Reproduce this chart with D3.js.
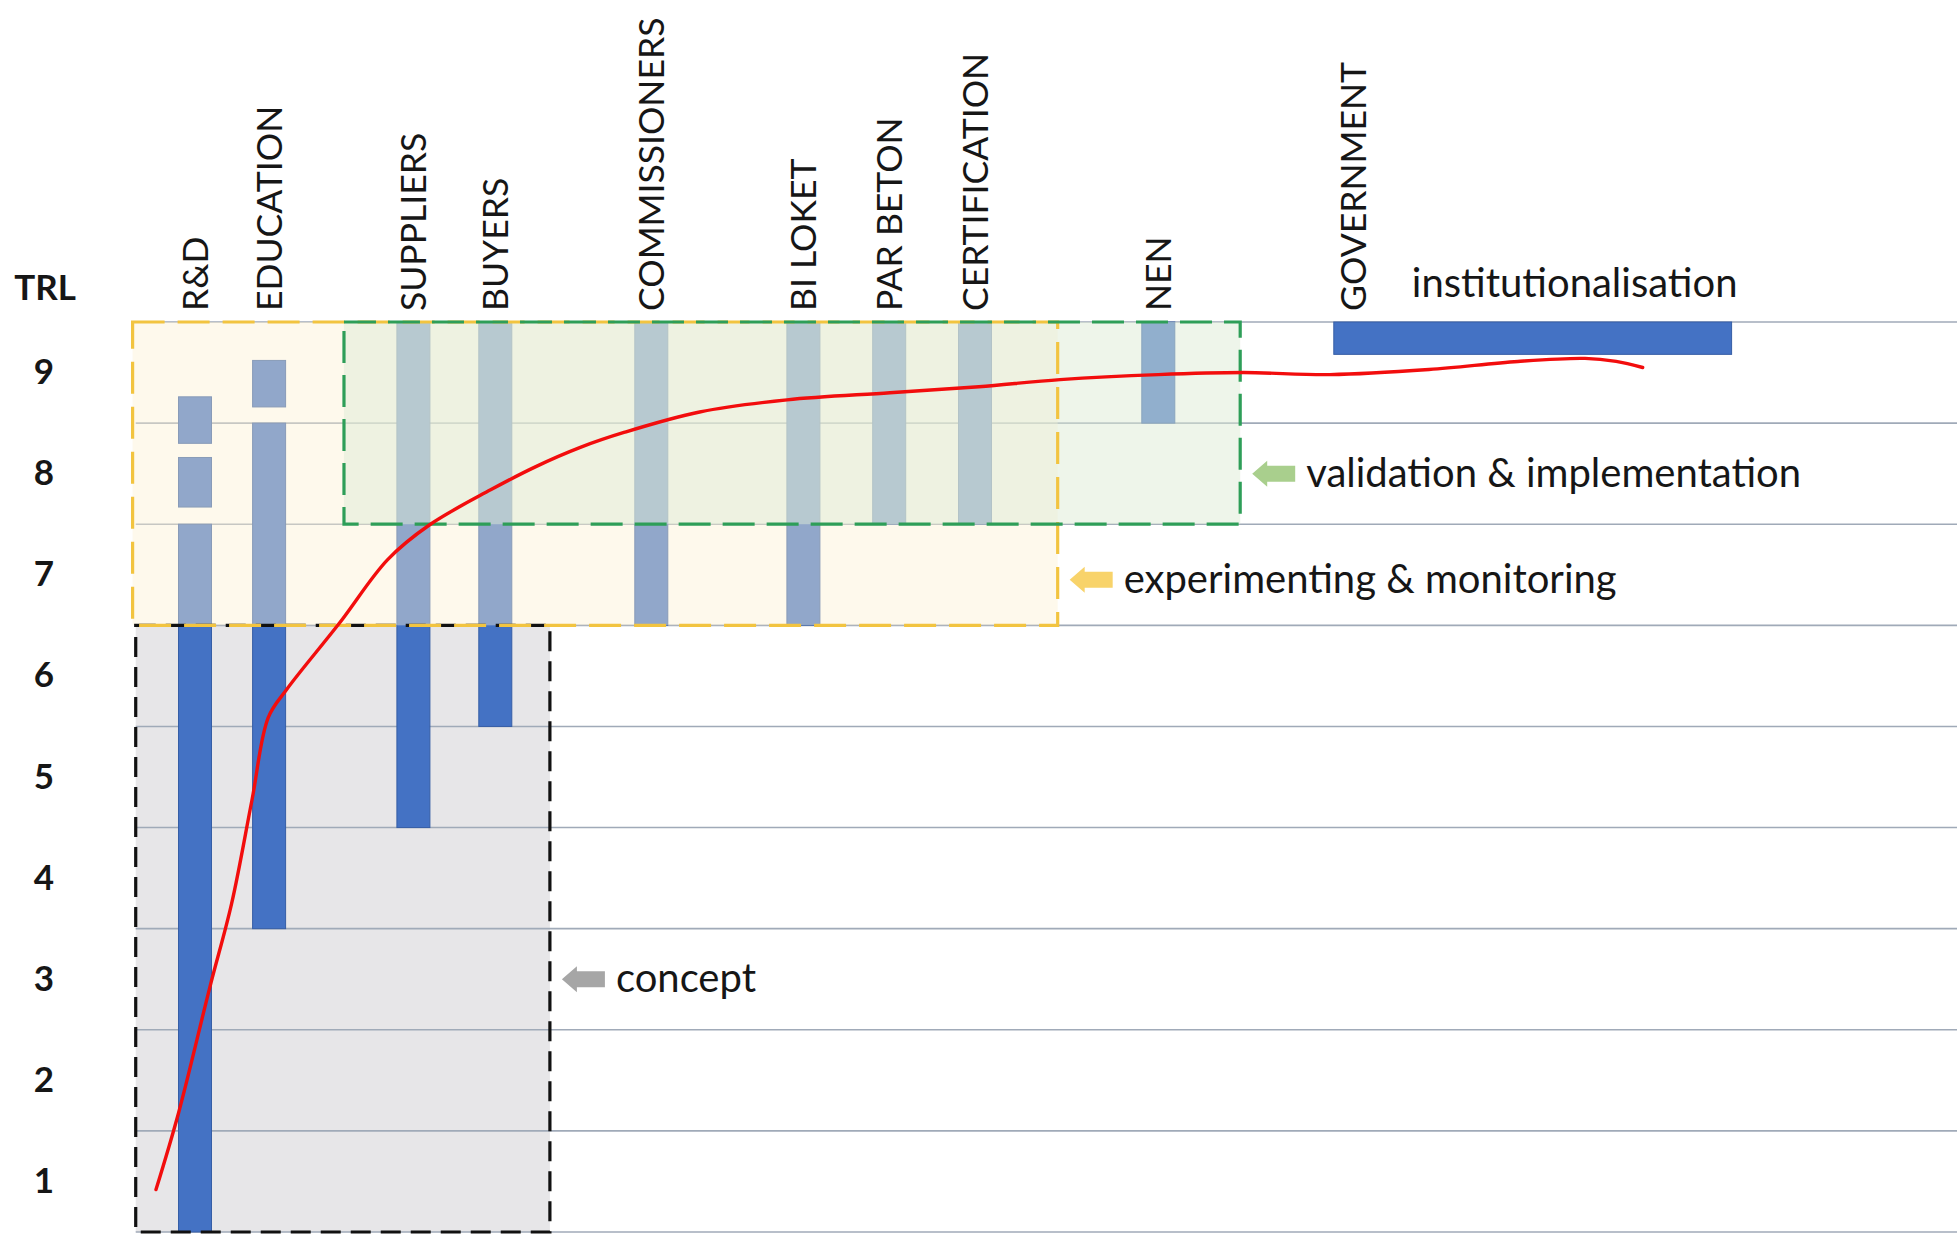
<!DOCTYPE html>
<html>
<head>
<meta charset="utf-8">
<script src="https://cdn.jsdelivr.net/npm/d3@7"></script>
<style>
  html, body { margin: 0; padding: 0; background: #ffffff; }
  svg { display: block; }
  text { font-family: Lato, "Noto Sans", sans-serif; fill: #161616; }
</style>
</head>
<body>
<svg id="chart" width="1957" height="1235"></svg>
<script>
// ---------------- data ----------------
const trlTicks = [1, 2, 3, 4, 5, 6, 7, 8, 9];
const gridLevels = [0, 1, 2, 3, 4, 5, 6, 7, 8, 9];

const categories = ["R&D", "EDUCATION", "SUPPLIERS", "BUYERS", "COMMISSIONERS",
                    "BI LOKET", "PAR BETON", "CERTIFICATION", "NEN", "GOVERNMENT"];
const categorySlot = [1.0, 1.95, 3.8, 4.85, 6.85, 8.8, 9.9, 11.0, 13.35, 15.85];

// vertical bar segments (TRL from -> to)
const segCategory = ["R&D", "R&D", "R&D", "EDUCATION", "EDUCATION", "SUPPLIERS",
                     "BUYERS", "COMMISSIONERS", "BI LOKET", "PAR BETON", "CERTIFICATION", "NEN"];
const segFrom = [0, 7.17, 7.8, 3, 8.16, 4, 5, 6, 6, 7, 7, 8];
const segTo   = [7, 7.66, 8.26, 8, 8.62, 9, 9, 9, 9, 9, 9, 9];

// horizontal "institutionalisation" bar (government)
const govSlotFrom = 15.6, govSlotTo = 20.7;
const govTrlFrom = 8.68, govTrlTo = 9;
const govLabel = "institutionalisation";

// phases (boxes)
const phaseNames    = ["concept", "experimenting & monitoring", "validation & implementation"];
const phaseTrlFrom  = [0, 6, 7];
const phaseTrlTo    = [6, 9, 9];
const phaseSlotFrom = [0.24, 0.2, 2.91];
const phaseSlotTo   = [5.55, 12.06, 14.4];
const phaseLabelTrl = [2.5, 6.45, 7.5];

// red development curve
const curveSlot = [0.5, 0.79, 1.19, 1.47, 1.73, 1.94, 2.17, 2.85, 3.47, 4.0, 4.79, 5.37, 5.94,
                   6.51, 7.47, 8.59, 9.91, 11.05, 12.09, 13.35, 14.44, 15.55, 16.82, 17.96, 18.82, 19.22, 19.56];
const curveTrl  = [0.42, 1.18, 2.42, 3.25, 4.27, 5.09, 5.36, 6.02, 6.65, 6.99, 7.34, 7.57, 7.76,
                   7.91, 8.11, 8.23, 8.30, 8.36, 8.43, 8.48, 8.50, 8.48, 8.53, 8.61, 8.64, 8.61, 8.55];

// ---------------- scales ----------------
const svg = d3.select("#chart");
const x = d3.scaleLinear().domain([0, 24]).range([117, 1989]);
const y = d3.scaleLinear().domain([0, 9]).range([1232, 322]);
const gridSlotFrom = 0.24, gridSlotTo = 23.6;
const barW = 33;
const labelSize = 35.5;
const noteSize = 40;

const blue = "#4472C4", blueEdge = "#365EA6";

// concept box fill (under everything)
svg.append("rect")
  .attr("x", x(phaseSlotFrom[0])).attr("y", y(phaseTrlTo[0]))
  .attr("width", x(phaseSlotTo[0]) - x(phaseSlotFrom[0]))
  .attr("height", y(phaseTrlFrom[0]) - y(phaseTrlTo[0]))
  .attr("fill", "#E7E6E8");

// gridlines
svg.append("g").selectAll("line").data(gridLevels).join("line")
  .attr("x1", x(gridSlotFrom)).attr("x2", x(gridSlotTo))
  .attr("y1", d => y(d)).attr("y2", d => y(d))
  .attr("stroke", "#A0AAB8").attr("stroke-width", 1.6);

// vertical bars
const segs = segCategory.map((c, i) => ({ c, from: segFrom[i], to: segTo[i] }));
svg.append("g").selectAll("rect").data(segs).join("rect")
  .attr("x", d => x(categorySlot[categories.indexOf(d.c)]) - barW / 2)
  .attr("width", barW)
  .attr("y", d => y(d.to))
  .attr("height", d => y(d.from) - y(d.to))
  .attr("fill", blue).attr("stroke", blueEdge).attr("stroke-width", 1);

// government bar
svg.append("rect")
  .attr("x", x(govSlotFrom)).attr("width", x(govSlotTo) - x(govSlotFrom))
  .attr("y", y(govTrlTo)).attr("height", y(govTrlFrom) - y(govTrlTo))
  .attr("fill", blue).attr("stroke", blueEdge).attr("stroke-width", 1);

// translucent phase overlays
const overlayFill = [null, "rgb(253,241,210)", "rgb(221,235,213)"];
const overlayOpacity = [0, 0.42, 0.5];
[1, 2].forEach(i => {
  svg.append("rect")
    .attr("x", x(phaseSlotFrom[i])).attr("y", y(phaseTrlTo[i]))
    .attr("width", x(phaseSlotTo[i]) - x(phaseSlotFrom[i]))
    .attr("height", y(phaseTrlFrom[i]) - y(phaseTrlTo[i]))
    .attr("fill", overlayFill[i]).attr("fill-opacity", overlayOpacity[i]);
});

// dashed outlines
const strokeCol = ["#111111", "#F2C440", "#2E9E58"];
const dashes = ["20 10", "32 13", "32 12"];
[0, 1, 2].forEach(i => {
  svg.append("rect")
    .attr("x", x(phaseSlotFrom[i])).attr("y", y(phaseTrlTo[i]))
    .attr("width", x(phaseSlotTo[i]) - x(phaseSlotFrom[i]))
    .attr("height", y(phaseTrlFrom[i]) - y(phaseTrlTo[i]))
    .attr("fill", "none").attr("stroke", strokeCol[i])
    .attr("stroke-width", 3.2).attr("stroke-dasharray", dashes[i]);
});

// red curve
const line = d3.line().x(d => x(d[0])).y(d => y(d[1])).curve(d3.curveCatmullRom.alpha(0.5));
svg.append("path")
  .attr("d", line(curveSlot.map((s, i) => [s, curveTrl[i]])))
  .attr("fill", "none").attr("stroke", "#F20D0D").attr("stroke-width", 3.4)
  .attr("stroke-linecap", "round");

// TRL axis labels
svg.append("text").attr("x", 45).attr("y", 300)
  .attr("text-anchor", "middle").attr("font-weight", 700).attr("font-size", 35)
  .text("TRL");
svg.append("g").selectAll("text").data(trlTicks).join("text")
  .attr("x", 44).attr("y", d => y(d - 0.5))
  .attr("dy", "0.33em")
  .attr("text-anchor", "middle").attr("font-weight", 700).attr("font-size", 35)
  .text(d => d);

// category labels (rotated)
svg.append("g").selectAll("text").data(categories).join("text")
  .attr("transform", (d, i) => `translate(${x(categorySlot[i])},311) rotate(-90)`)
  .attr("dy", "0.36em")
  .attr("text-anchor", "start").attr("font-size", labelSize)
  .text(d => d);

// government label
svg.append("text")
  .attr("x", x(govSlotFrom) + 78).attr("y", 297)
  .attr("font-size", noteSize).text(govLabel);

// phase arrows + labels
const arrowFill = ["#A6A6A6", "#F8D36A", "#A9CF8D"];
function arrowPath(tx, cy) {
  const L = 43, hl = 15, hh = 13, sh = 8;
  return `M${tx},${cy} L${tx + hl},${cy - hh} L${tx + hl},${cy - sh} L${tx + L},${cy - sh}
          L${tx + L},${cy + sh} L${tx + hl},${cy + sh} L${tx + hl},${cy + hh} Z`;
}
[0, 1, 2].forEach(i => {
  const tx = x(phaseSlotTo[i]) + 12;
  const cy = y(phaseLabelTrl[i]);
  svg.append("path").attr("d", arrowPath(tx, cy)).attr("fill", arrowFill[i]);
  svg.append("text").attr("x", tx + 54).attr("y", cy).attr("dy", "0.33em")
    .attr("font-size", noteSize).text(phaseNames[i]);
});
</script>
</body>
</html>
